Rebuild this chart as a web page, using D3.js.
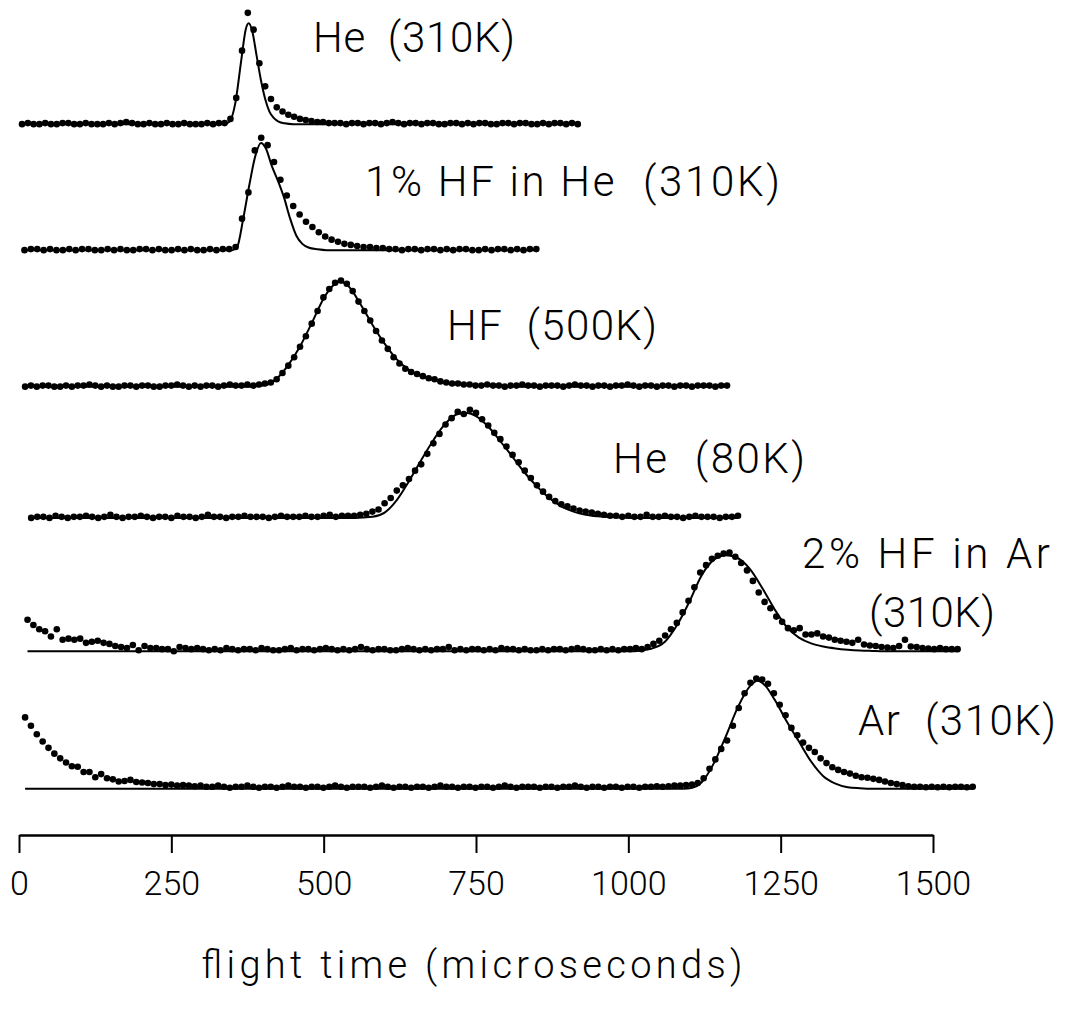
<!DOCTYPE html>
<html>
<head>
<meta charset="utf-8">
<script src="https://cdn.jsdelivr.net/npm/d3@7"></script>
<style>
  html, body { margin: 0; padding: 0; background: #fff; }
  svg text { font-family: Roboto, "Liberation Sans", sans-serif; font-weight: 300; fill: #000; }
</style>
</head>
<body>
<svg id="chart"></svg>
<script>
// flight time ticks (microseconds)
const tickValues = [0, 250, 500, 750, 1000, 1250, 1500];

const traceNames = ["He  (310K)", "1% HF in He  (310K)", "HF  (500K)", "He  (80K)", "2% HF in Ar", "Ar  (310K)"];

// vertical offset of each trace baseline (stack units)
const traceOffsets = [6.77, 5.57, 4.27, 3.02, 1.75, 0.44];

// first dot time and spacing of dots (microseconds)
const dotStart = [5, 9, 10, 20, 14, 10];
const dotStep = [9.5, 10.5, 9.6, 10, 9.6, 9.6];

// measured signal, in hundredths of a stack unit
const dotsHe310 = [0,1,0,0,1,0,0,1,1,0,0,1,0,0,0,1,0,1,2,1,0,0,1,0,0,1,0,0,1,0,0,0,1,0,1,
  1,5,25,70,106,90,58,36,24,16,12,9,7,5,4,3,2,2,1,
  1,1,0,1,1,0,1,1,0,1,2,1,0,1,1,0,1,1,0,0,1,1,0,1,0,1,1,0,0,1,1,0,1,1,0,0,1,0,1,1,0,1,0];

const dotsHFinHe = [0,1,1,0,1,0,0,1,0,1,1,0,0,1,0,1,0,0,1,1,0,1,0,0,1,0,1,0,0,1,0,1,1,
  3,30,55,95,107,100,84,67,52,42,34,27,22,17,13,10,8,6,5,4,3,3,2,2,1,
  1,0,1,1,0,1,1,0,1,0,1,1,0,0,1,0,1,1,0,1,0,1,1];

const dotsHF500 = [0,1,0,1,1,0,0,1,0,1,1,2,1,0,1,0,0,1,1,0,1,1,0,0,1,1,2,1,0,1,0,1,1,0,1,2,1,1,2,1,
  2,3,4,7,13,20,28,38,48,60,72,85,93,99,101,98,91,81,72,63,53,44,36,28,22,17,14,12,10,8,7,5,4,3,3,2,
  2,1,1,2,1,1,0,1,1,2,1,1,0,1,1,1,0,1,2,1,1,0,1,1,0,1,1,2,1,0,1,1,0,1,1,0,1,1,0,1,1,1,0,1,1];

const dotsHe80 = [0,1,1,0,2,1,0,1,1,2,1,0,1,3,1,0,1,1,2,1,0,1,1,0,2,1,1,0,1,3,1,1,0,1,1,2,1,1,1,0,1,2,1,1,1,2,1,1,2,3,1,2,2,2,
  3,4,6,8,14,19,26,31,37,45,51,61,71,80,89,95,101,99,103,100,94,88,81,75,68,60,53,45,38,31,25,20,16,13,11,9,7,6,5,4,3,2,
  2,1,2,1,1,3,1,1,2,1,1,0,1,2,1,1,1,0,1,1,2];

const dotsHFinAr = [30,25,21,19,14,21,11,12,11,12,8,9,10,8,7,5,4,3,6,1,5,3,3,2,2,0,4,3,2,3,2,
  1,2,1,3,2,1,2,2,1,3,2,1,1,2,3,1,2,2,1,2,3,2,1,2,1,2,4,2,1,2,2,1,1,2,3,2,1,2,1,2,2,4,1,2,1,2,2,1,2,1,3,2,2,1,2,1,1,2,1,2,2,1,2,3,2,1,1,2,1,2,1,2,
  2,3,2,4,7,10,15,21,27,37,48,61,75,82,88,91,93,94,90,84,77,67,56,47,41,33,28,22,20,22,16,16,17,14,13,11,10,9,8,11,6.5,5.5,5,4,3.5,3,5,11,4.5,4,3,2.5,2,3,2,2,2];

const dotsAr310 = [68,60,52,45,39,33.5,29,25,21.5,21,16,16,11,14,10,9,7,7.5,8.5,6.5,6,5.5,4.5,4.5,3.5,4,3,3.5,3,2.5,3,
  2,2,3,2,1,2,2,3,2,1,2,2,1,2,3,2,2,1,2,2,1,2,3,2,1,2,2,2,1,2,3,2,1,2,2,1,2,2,1,2,3,2,2,1,2,2,1,2,2,1,2,3,2,1,2,2,2,1,2,2,1,2,2,3,2,1,2,2,1,2,2,1,2,2,1,
  2,2,2.5,2,2.5,3,3,3.5,4,5.5,10,19,28,38,46,60,77,91,101,105,104,100,91,80,70,58,51,44,39,35,29,24.5,20.5,18,16,14.5,12.5,11,10.5,9.5,8.5,7,5.5,4.5,3.5,2.5,2,2,1.5,2,1.5,2,1.5,2,2,1.5,2];

// fitted curves: [time, signal in stack units]
const fitHe310 = [[5,0],[335,0],[345,0.02],[355,0.2],[365,0.62],[372,0.9],[377,0.96],[383,0.88],[390,0.65],[397,0.42],[404,0.24],[411,0.12],[418,0.06],[426,0.025],[436,0.008],[450,0],[918,0]];
const fitHFinHe = [[9,0],[350,0],[358,0.03],[368,0.3],[378,0.62],[388,0.9],[397,1.02],[405,0.97],[415,0.8],[425,0.66],[435,0.5],[445,0.3],[455,0.14],[465,0.06],[475,0.025],[490,0.008],[505,0],[852,0]];
const fitHF500 = [[10,0],[380,0],[400,0.01],[420,0.06],[440,0.19],[460,0.37],[480,0.6],[500,0.84],[515,0.96],[527,1.0],[540,0.96],[560,0.79],[580,0.59],[600,0.41],[620,0.26],[640,0.16],[660,0.1],[680,0.065],[700,0.04],[730,0.02],[770,0.007],[820,0],[1164,0]];
const fitHe80 = [[20,0],[550,0],[580,0.01],[600,0.05],[620,0.17],[640,0.35],[660,0.55],[680,0.74],[700,0.9],[720,0.99],[735,1.0],[750,0.97],[770,0.87],[790,0.73],[810,0.58],[830,0.43],[850,0.3],[870,0.19],[890,0.11],[910,0.06],[930,0.03],[950,0.015],[980,0.005],[1010,0],[1180,0]];
const fitHFinAr = [[14,0],[1010,0],[1035,0.02],[1060,0.09],[1080,0.25],[1100,0.47],[1120,0.72],[1140,0.87],[1160,0.915],[1175,0.9],[1200,0.78],[1220,0.6],[1240,0.4],[1260,0.23],[1280,0.13],[1300,0.075],[1320,0.045],[1340,0.027],[1360,0.015],[1380,0.007],[1400,0.003],[1420,0],[1540,0]];
const fitAr310 = [[10,0],[1090,0],[1105,0.01],[1120,0.06],[1140,0.24],[1160,0.5],[1180,0.78],[1200,0.98],[1212,1.03],[1225,0.98],[1240,0.85],[1260,0.64],[1280,0.45],[1300,0.26],[1320,0.12],[1340,0.05],[1360,0.015],[1380,0.005],[1400,0],[1566,0]];

const allDots = [dotsHe310, dotsHFinHe, dotsHF500, dotsHe80, dotsHFinAr, dotsAr310];
const allFits = [fitHe310, fitHFinHe, fitHF500, fitHe80, fitHFinAr, fitAr310];

// label placement (px): left x, baseline y, width
const labelLayout = [
    {text: traceNames[0], x: 313, y: 52, w: 202},
    {text: traceNames[1], x: 365, y: 196, w: 415},
    {text: traceNames[2], x: 447, y: 340, w: 210},
    {text: traceNames[3], x: 613, y: 473, w: 192},
    {text: traceNames[4], x: 802, y: 568, w: 248},
    {text: "(310K)", x: 869, y: 627, w: 126},
    {text: traceNames[5], x: 858, y: 735, w: 198}
];

const width = 1070, height = 1011;
const axisY = 835;

const svg = d3.select("#chart")
    .attr("width", width)
    .attr("height", height);

const x = d3.scaleLinear().domain([0, 1500]).range([19, 933]);
const y = d3.scaleLinear().domain([0, 8]).range([axisY, axisY - 8 * 105]);

const fitLine = d3.line()
    .x(d => x(d[0]))
    .y(d => y(d[1]))
    .curve(d3.curveMonotoneX);

allDots.forEach(function(vals, k) {
    const off = traceOffsets[k];
    const g = svg.append("g").attr("class", "trace");

    g.append("path")
        .datum(allFits[k].map(p => [p[0], p[1] + off]))
        .attr("fill", "none")
        .attr("stroke", "#000")
        .attr("stroke-width", 2)
        .attr("d", fitLine);

    g.selectAll("circle")
        .data(vals)
        .enter()
        .append("circle")
        .attr("cx", (d, i) => x(dotStart[k] + i * dotStep[k]))
        .attr("cy", d => y(off + d / 100))
        .attr("r", 3.3)
        .attr("fill", "#000");
});

// labels
svg.selectAll(".label")
    .data(labelLayout)
    .enter()
    .append("text")
    .attr("class", "label")
    .attr("x", d => d.x)
    .attr("y", d => d.y)
    .attr("textLength", d => d.w)
    .attr("lengthAdjust", "spacing")
    .style("font-size", "42px")
    .style("white-space", "pre")
    .text(d => d.text);

// X axis
const axis = svg.append("g")
    .attr("transform", `translate(0,${axisY})`)
    .call(d3.axisBottom(x).tickValues(tickValues).tickSize(18).tickSizeOuter(0).tickPadding(18).tickFormat(d3.format("d")));

axis.select(".domain").attr("stroke", "#000").attr("stroke-width", 2.5);
axis.selectAll(".tick line").attr("stroke", "#000").attr("stroke-width", 2);
axis.selectAll(".tick text")
    .style("font-size", "34px")
    .attr("fill", "#000");

svg.append("text")
    .attr("x", 472)
    .attr("y", 978)
    .attr("text-anchor", "middle")
    .attr("textLength", 541)
    .attr("lengthAdjust", "spacing")
    .style("font-size", "38px")
    .text("flight time (microseconds)");
</script>
</body>
</html>
